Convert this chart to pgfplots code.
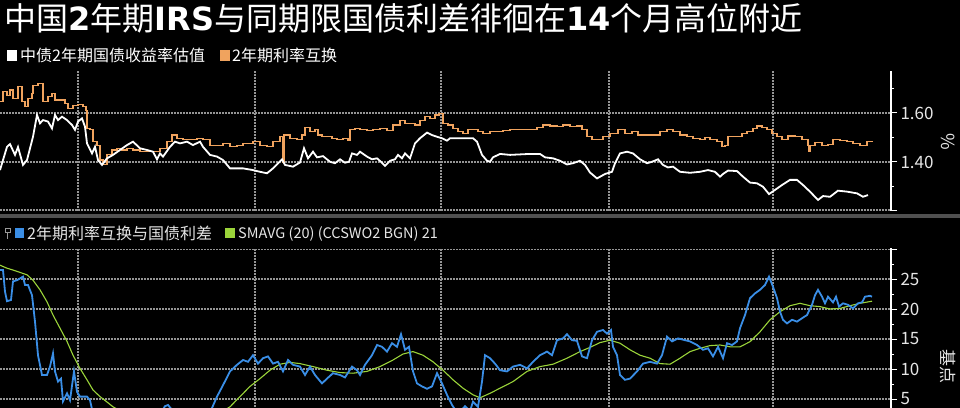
\documentclass[border=0pt]{standalone}
\usepackage{pgfplots}
\pgfplotsset{compat=1.18}
\usepackage{fontspec}
\setmainfont{Noto Sans CJK SC}
\newfontfamily\dv{DejaVu Sans}
\definecolor{orng}{HTML}{F0A35E}
\definecolor{blu}{HTML}{3A8EE6}
\definecolor{grn}{HTML}{9BD43A}
\definecolor{gridc}{HTML}{959595}
\definecolor{sepc}{HTML}{505050}
\definecolor{lbl}{HTML}{E6E6E6}
\tikzset{gridl/.style={draw=gridc, line width=1.2bp, dash pattern=on 1.5bp off 1.5bp}}
\pgfplotsset{
  panel/.style={
    scale only axis, width=891bp,
    xmin=0, xmax=891,
    axis line style={draw=none},
    xtick=\empty,
    ytick pos=right, yticklabel pos=right,
    tick align=outside,
    major tick length=6bp, minor tick length=3bp,
    y tick style={white, line width=1bp},
    yticklabel style={text=lbl, font=\fontsize{17bp}{20bp}\selectfont},
    /pgf/number format/assume math mode=true,
    clip=true,
  }
}
\begin{document}
\begin{tikzpicture}
\fill[black] (0,0) rectangle (960bp,-408bp);
\useasboundingbox (0,0) rectangle (960bp,-408bp);
% title
\node[anchor=base west, inner sep=0, text=white, font=\fontsize{32bp}{36bp}\selectfont] at (4bp,-30bp)
  {中国{\dv\bfseries 2}年期{\dv\bfseries IRS}与同期限国债利差徘徊在{\dv\bfseries 14}个月高位附近};
% legend top
\fill[white] (7bp,-50bp) rectangle (17bp,-61bp);
\node[anchor=base west, inner sep=0, text=white, font=\fontsize{16bp}{19bp}\selectfont] at (20bp,-61bp) {中债2年期国债收益率估值};
\fill[orng] (220bp,-50bp) rectangle (230bp,-61bp);
\node[anchor=base west, inner sep=0, text=white, font=\fontsize{16bp}{19bp}\selectfont] at (232bp,-61bp) {2年期利率互换};
% separator
\fill[sepc] (0,-214bp) rectangle (960bp,-218bp);
% legend bottom
\draw[gray!80, line width=0.8bp] (5.5bp,-228bp) rectangle (10bp,-232bp);
\draw[gray!80, line width=0.8bp] (7.7bp,-232bp) -- (7.7bp,-239bp);
\fill[blu] (15bp,-228bp) rectangle (24bp,-238bp);
\node[anchor=base west, inner sep=0, text=lbl, font=\fontsize{16bp}{19bp}\selectfont] at (27bp,-239bp) {2年期利率互换与国债利差};
\fill[grn] (225bp,-228bp) rectangle (235bp,-238bp);
\node[anchor=base west, inner sep=0, text=lbl, font=\fontsize{14.5bp}{18bp}\selectfont] at (238bp,-238.5bp) {SMAVG (20) (CCSWO2 BGN) 21};
% unit labels
\node[rotate=-90, text=lbl, font=\fontsize{18bp}{20bp}\selectfont] at (948bp,-142bp) {\%};
\node[rotate=-90, text=lbl, font=\fontsize{17bp}{20bp}\selectfont] at (948bp,-366bp) {基点};
% grid lines (decoration)
\foreach \gx in {78,255,441,609,773} {
  \draw[gridl] (\gx bp,-71bp) -- (\gx bp,-211bp);
  \draw[gridl] (\gx bp,-249bp) -- (\gx bp,-408bp);
}
\foreach \gy in {113,162,210} { \draw[gridl] (0,-\gy bp) -- (891bp,-\gy bp); }
\foreach \gy in {249.5,279,309,339,369,399} { \draw[gridl] (0,-\gy bp) -- (891bp,-\gy bp); }

\begin{axis}[panel, at={(0,-71bp)}, anchor=north west, height=140bp,
  ymin=1.20, ymax=1.7714,
  ytick={1.2,1.4,1.6},
  minor ytick={1.3,1.5,1.7},
  yticklabel={\ifdim\tick pt<1.3pt\else\pgfmathprintnumber[fixed,fixed zerofill,precision=2]{\tick}\fi},
]
\addplot[orng, line width=1.1bp, const plot] coordinates {
(0,1.646)(3,1.687)(7,1.673)(10,1.694)(13,1.660)(18,1.707)(22,1.646)(25,1.626)(28,1.660)(32,1.680)
(33,1.714)(38,1.721)(42,1.721)(43,1.646)(48,1.667)(52,1.680)(55,1.653)(60,1.653)(65,1.640)(68,1.619)
(73,1.629)(78,1.633)(83,1.626)(86,1.612)(87,1.538)(90,1.533)(93,1.483)(97,1.469)(100,1.408)(103,1.388)
(107,1.429)(112,1.449)(117,1.456)(122,1.449)(127,1.456)(133,1.449)(140,1.442)(147,1.442)(153,1.442)(160,1.456)
(167,1.483)(172,1.510)(177,1.497)(183,1.490)(190,1.490)(197,1.497)(203,1.490)(210,1.469)(217,1.469)(223,1.476)
(230,1.462)(237,1.469)(243,1.476)(253,1.483)(260,1.469)(267,1.462)(273,1.483)(280,1.503)(283,1.400)(284,1.510)
(290,1.497)(297,1.490)(302,1.510)(305,1.541)(310,1.524)(315,1.531)(318,1.510)(322,1.503)(327,1.503)(332,1.497)
(337,1.493)(343,1.497)(348,1.487)(350,1.533)(355,1.537)(360,1.531)(367,1.528)(373,1.533)(380,1.537)(387,1.528)
(393,1.551)(400,1.571)(405,1.558)(410,1.558)(415,1.551)(420,1.571)(425,1.585)(430,1.578)(435,1.592)(439,1.599)
(443,1.558)(448,1.551)(453,1.537)(458,1.524)(463,1.517)(468,1.533)(473,1.531)(478,1.524)(483,1.517)(490,1.524)
(497,1.524)(503,1.528)(510,1.531)(517,1.531)(523,1.533)(530,1.533)(537,1.541)(543,1.551)(550,1.547)(557,1.544)
(563,1.551)(570,1.544)(577,1.547)(582,1.531)(587,1.503)(592,1.493)(597,1.490)(603,1.503)(610,1.517)(618,1.531)
(625,1.517)(632,1.524)(638,1.510)(645,1.510)(652,1.510)(660,1.524)(667,1.531)(673,1.524)(680,1.510)(687,1.503)
(693,1.497)(700,1.493)(705,1.501)(710,1.490)(717,1.483)(722,1.465)(725,1.469)(728,1.503)(735,1.503)(742,1.517)
(747,1.524)(753,1.537)(757,1.547)(762,1.541)(767,1.533)(772,1.517)(777,1.503)(782,1.490)(788,1.506)(795,1.503)
(802,1.490)(808,1.469)(809,1.445)(810,1.469)(815,1.479)(822,1.469)(828,1.473)(833,1.490)(840,1.487)(847,1.483)
(853,1.476)(860,1.469)(867,1.483)(873,1.483)
};
\addplot[white, line width=1.8bp] coordinates {
(0,1.367)(7,1.462)(10,1.473)(15,1.429)(18,1.461)(23,1.388)(27,1.408)(33,1.503)(37,1.592)(40,1.558)
(43,1.571)(48,1.565)(52,1.537)(55,1.592)(58,1.571)(62,1.585)(67,1.571)(72,1.551)(75,1.531)(78,1.565)
(82,1.578)(85,1.544)(87,1.476)(92,1.435)(95,1.462)(98,1.408)(102,1.388)(107,1.415)(113,1.429)(120,1.449)
(127,1.469)(133,1.483)(140,1.456)(147,1.449)(153,1.442)(157,1.411)(160,1.435)(163,1.422)(170,1.462)(175,1.483)
(180,1.476)(187,1.483)(193,1.469)(200,1.483)(203,1.462)(210,1.429)(217,1.422)(223,1.408)(230,1.374)(237,1.374)
(243,1.374)(253,1.367)(260,1.360)(267,1.354)(273,1.374)(282,1.411)(285,1.388)(293,1.381)(300,1.398)(304,1.456)
(308,1.415)(313,1.442)(317,1.419)(323,1.424)(330,1.401)(335,1.395)(340,1.411)(345,1.397)(349,1.401)(352,1.435)
(357,1.429)(360,1.442)(367,1.422)(372,1.411)(377,1.415)(382,1.397)(385,1.384)(390,1.405)(395,1.411)(398,1.429)
(402,1.415)(405,1.435)(410,1.415)(415,1.476)(420,1.497)(427,1.520)(432,1.510)(437,1.503)(442,1.497)(447,1.487)
(450,1.497)(463,1.497)(473,1.497)(477,1.483)(482,1.429)(487,1.405)(490,1.401)(493,1.419)(500,1.433)(510,1.429)
(520,1.431)(530,1.433)(540,1.433)(545,1.419)(553,1.415)(560,1.405)(567,1.390)(573,1.395)(580,1.405)(585,1.388)
(590,1.357)(597,1.333)(605,1.351)(612,1.360)(615,1.395)(620,1.435)(627,1.442)(633,1.435)(640,1.411)(647,1.395)
(652,1.401)(658,1.411)(663,1.388)(668,1.378)(673,1.381)(680,1.360)(690,1.356)(700,1.360)(708,1.367)(715,1.360)
(720,1.340)(723,1.351)(728,1.365)(737,1.363)(743,1.340)(750,1.316)(757,1.313)(763,1.299)(769,1.269)(775,1.286)
(782,1.306)(790,1.327)(797,1.327)(803,1.306)(810,1.279)(818,1.245)(823,1.261)(830,1.258)(838,1.283)(847,1.279)
(857,1.272)(863,1.258)(868,1.265)
};
\end{axis}
\draw[white, line width=1.2bp] (891bp,-71bp) -- (891bp,-211bp);

\begin{axis}[panel, at={(0,-249bp)}, anchor=north west, height=159bp,
  ymin=3.5, ymax=30,
  ytick={5,10,15,20,25,30},
  minor ytick={7.5,12.5,17.5,22.5,27.5},
  yticklabel={\ifdim\tick pt>27pt\else\pgfmathprintnumber[fixed,precision=0]{\tick}\fi},
]
\addplot[grn, line width=1.1bp] coordinates {
(0,27.3)(7,26.8)(13,26.5)(20,26.1)(27,25.7)(33,24.8)(40,23.2)(47,21.2)(53,19.0)(60,16.8)
(67,14.6)(73,12.3)(80,10.1)(87,8.2)(93,6.5)(100,5.4)(107,4.5)(113,3.7)(125,2.6)(140,1.6)
(160,1.0)(180,0.9)(200,1.3)(215,2.3)(225,3.2)(230,3.7)(240,5.4)(250,7.1)(260,8.4)(270,9.8)
(280,10.8)(290,11.1)(300,10.9)(313,10.4)(327,9.8)(340,9.4)(353,9.3)(367,9.6)(380,10.4)(393,11.5)
(403,12.5)(413,12.9)(423,12.3)(433,11.2)(443,9.8)(453,8.2)(463,6.8)(473,5.7)(480,5.2)(490,5.95)
(500,6.8)(513,7.9)(527,9.6)(540,10.4)(553,10.8)(567,11.8)(580,12.9)(590,13.6)(600,14.4)(610,14.8)
(620,14.3)(630,13.2)(640,12.3)(650,11.8)(660,10.9)(670,10.8)(680,11.8)(690,12.9)(700,13.45)(710,13.9)
(720,14.0)(730,13.7)(740,13.7)(750,14.55)(760,16.2)(770,18.2)(780,19.55)(790,20.55)(800,20.95)(810,20.55)
(820,20.4)(830,20.0)(840,20.1)(850,20.55)(860,20.95)(872,21.3)
};
\addplot[blu, line width=1.8bp] coordinates {
(0,26.5)(3,26.5)(5,22.9)(7,21.3)(11,21.5)(13,24.6)(17,24.8)(20,25.1)(23,25.4)(25,24.0)
(28,24.0)(32,22.3)(35,17.9)(38,12.3)(42,9.0)(47,9.0)(50,10.4)(53,12.6)(55,9.6)(58,7.9)
(61,8.4)(63,4.6)(67,5.95)(70,4.8)(74,9.6)(77,6.2)(80,5.4)(87,5.4)(90,4.8)(92,3.3)
(95,2.5)(100,1.5)(110,0.5)(120,1.0)(130,-0.5)(140,0.5)(150,1.5)(160,2.5)(165,3.8)(168,4.0)
(172,3.2)(180,1.5)(190,0.5)(200,1.0)(208,2.5)(212,3.5)(217,5.4)(223,7.3)(230,9.6)(237,10.7)
(243,11.5)(248,11.2)(253,12.3)(258,10.9)(263,11.8)(268,12.1)(273,10.9)(278,11.2)(283,9.6)(288,11.5)
(293,10.7)(300,10.4)(305,9.0)(310,10.4)(315,9.0)(322,7.6)(327,8.4)(333,9.3)(340,9.0)(345,8.6)
(352,10.4)(357,9.8)(360,9.0)(365,10.7)(372,12.3)(377,14.0)(382,13.7)(387,12.9)(392,14.3)(397,13.7)
(401,15.8)(405,13.2)(409,13.7)(413,9.6)(417,7.6)(422,7.1)(427,6.7)(432,7.1)(437,9.3)(442,7.6)
(447,5.7)(452,4.0)(458,2.5)(465,3.8)(470,3.0)(473,4.55)(478,3.7)(482,7.9)(485,12.3)(490,11.8)
(495,10.9)(500,9.8)(507,9.6)(513,10.4)(520,10.7)(527,10.1)(533,11.2)(540,12.3)(547,12.9)(552,12.3)
(557,14.8)(563,15.1)(567,15.8)(572,14.8)(577,14.7)(582,12.1)(587,11.8)(592,14.8)(597,16.2)(603,16.5)
(607,15.9)(611,16.5)(613,13.7)(617,12.3)(620,9.0)(625,8.2)(630,8.4)(637,9.6)(643,10.9)(650,11.2)
(657,10.9)(662,12.3)(667,15.4)(672,14.6)(678,15.1)(685,14.8)(690,14.6)(697,14.0)(703,13.2)(708,13.45)
(713,12.1)(718,13.7)(723,11.8)(727,14.3)(732,14.0)(737,14.6)(740,16.8)(745,19.0)(750,21.8)(755,22.6)
(760,23.2)(765,24.0)(769,25.4)(773,23.7)(777,21.8)(780,19.55)(783,18.2)(787,17.6)(792,18.2)(797,17.9)
(802,18.45)(807,19.0)(812,20.7)(815,22.3)(818,23.2)(822,22.05)(825,20.95)(828,22.05)(833,21.1)(836,22.05)
(839,20.4)(843,20.95)(848,20.7)(853,20.1)(858,20.95)(862,21.1)(865,22.05)(870,22.2)(872,22.05)
};
\end{axis}
\draw[white, line width=1.2bp] (891bp,-248bp) -- (891bp,-408bp);
\end{tikzpicture}
\end{document}
